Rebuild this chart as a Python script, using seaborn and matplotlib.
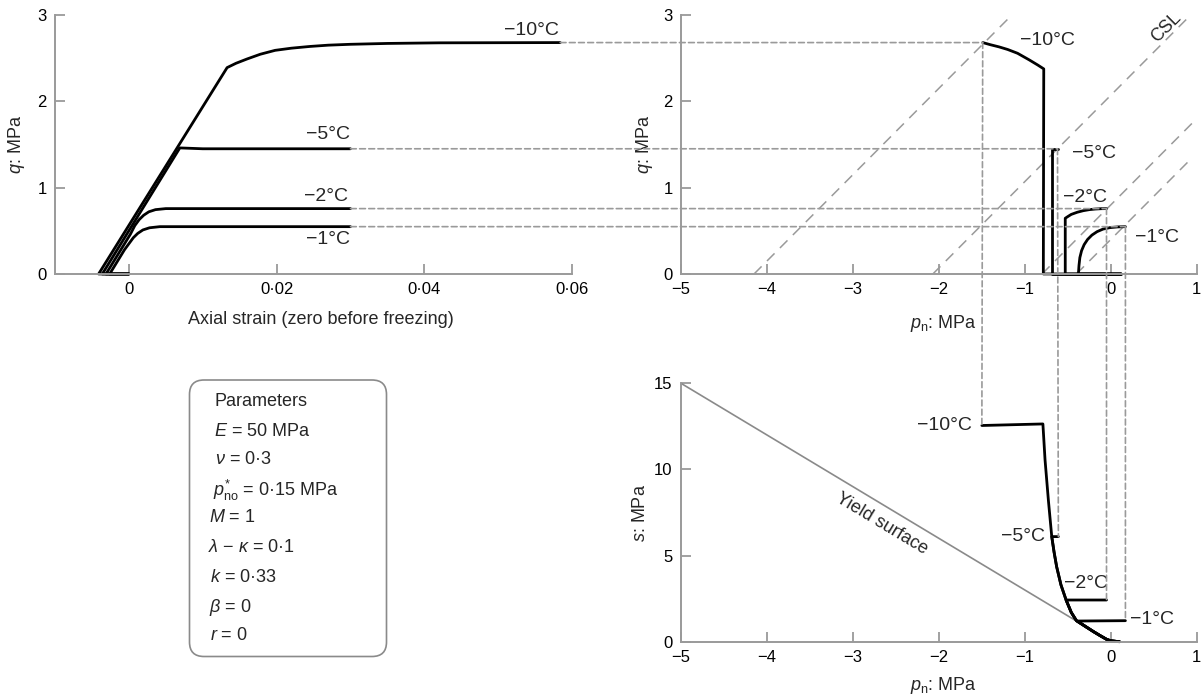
import matplotlib
matplotlib.use("Agg")
import matplotlib.pyplot as plt
import seaborn as sns
from matplotlib.patches import ConnectionPatch, FancyBboxPatch

# ---------------- data ----------------
temps = ["−10°C", "−5°C", "−2°C", "−1°C"]

# top-left: axial strain vs q
strain_m10 = [0.0, -0.0041, 0.0133, 0.0145, 0.0160, 0.0178, 0.0198, 0.0220, 0.0245,
              0.0270, 0.0300, 0.0350, 0.0420, 0.0584]
q_m10 = [0.0, 0.0, 2.39, 2.44, 2.49, 2.545, 2.59, 2.615, 2.635, 2.65, 2.66, 2.67, 2.677, 2.68]
strain_m5 = [0.0, -0.0036, 0.0069, 0.0100, 0.0300]
q_m5 = [0.0, 0.0, 1.46, 1.45, 1.45]
strain_m2 = [0.0, -0.0031, 0.0002, 0.0008, 0.0014, 0.0020, 0.0027, 0.0036, 0.0050, 0.0300]
q_m2 = [0.0, 0.0, 0.46, 0.56, 0.63, 0.68, 0.72, 0.745, 0.757, 0.757]
strain_m1 = [0.0, -0.0026, -0.0006, 0.0000, 0.0006, 0.0012, 0.0019, 0.0028, 0.0042, 0.0300]
q_m1 = [0.0, 0.0, 0.28, 0.35, 0.42, 0.47, 0.51, 0.535, 0.548, 0.548]

# top-right: p_n vs q
pq_p_m10 = [0.12, -0.785, -0.78, -0.85, -0.95, -1.085, -1.20, -1.30, -1.40, -1.49]
pq_q_m10 = [0.0, 0.0, 2.375, 2.42, 2.48, 2.556, 2.60, 2.63, 2.655, 2.68]
pq_p_m5 = [0.12, -0.687, -0.687, -0.62]
pq_q_m5 = [0.0, 0.0, 1.45, 1.45]
pq_p_m2 = [0.12, -0.53, -0.53, -0.50, -0.46, -0.39, -0.32, -0.25, -0.18, -0.11, -0.05]
pq_q_m2 = [0.0, 0.0, 0.645, 0.665, 0.69, 0.715, 0.733, 0.745, 0.752, 0.756, 0.757]
pq_p_m1 = [0.12, -0.377, -0.37, -0.36, -0.34, -0.31, -0.27, -0.22, -0.16, -0.09, -0.01, 0.08, 0.17]
pq_q_m1 = [0.0, 0.0, 0.10, 0.19, 0.27, 0.34, 0.40, 0.45, 0.49, 0.52, 0.537, 0.545, 0.548]

# critical state lines (endpoints)
csl_p0 = [-4.15, -2.07, -0.80, -0.40]
csl_q0 = [0.0, 0.0, 0.0, 0.0]
csl_p1 = [-1.18, 0.93, 0.95, 0.95]
csl_q1 = [2.97, 3.00, 1.75, 1.35]

# bottom-right: p_n vs s
ps_p_m10 = [0.10, 0.0, -0.05, -0.12, -0.20, -0.30, -0.40, -0.46, -0.52, -0.58, -0.63, -0.66,
            -0.687, -0.726, -0.765, -0.79, -1.50]
ps_s_m10 = [0.0, 0.05, 0.14, 0.34, 0.58, 0.90, 1.22, 1.70, 2.42, 3.30, 4.35, 5.20,
            6.10, 8.20, 10.55, 12.64, 12.55]
ps_p_m5 = [0.10, 0.0, -0.05, -0.12, -0.20, -0.30, -0.40, -0.46, -0.52, -0.58, -0.63, -0.66,
           -0.687, -0.61]
ps_s_m5 = [0.0, 0.05, 0.14, 0.34, 0.58, 0.90, 1.22, 1.70, 2.42, 3.30, 4.35, 5.20, 6.10, 6.10]
ps_p_m2 = [0.10, 0.0, -0.05, -0.12, -0.20, -0.30, -0.40, -0.46, -0.52, -0.05]
ps_s_m2 = [0.0, 0.05, 0.14, 0.34, 0.58, 0.90, 1.22, 1.70, 2.42, 2.42]
ps_p_m1 = [0.10, 0.0, -0.05, -0.12, -0.20, -0.30, -0.39, 0.17]
ps_s_m1 = [0.0, 0.05, 0.14, 0.34, 0.58, 0.90, 1.20, 1.22]

yield_p = [-5.0, -0.42]
yield_s = [15.0, 1.26]

tl_xticks = [0.0, 0.02, 0.04, 0.06]
tl_xticklabels = ["0", "0·02", "0·04", "0·06"]
q_ticks = [0, 1, 2, 3]
q_ticklabels = ["0", "1", "2", "3"]
p_ticks = [-5, -4, -3, -2, -1, 0, 1]
p_ticklabels = ["−5", "−4", "−3", "−2", "−1", "0", "1"]
s_ticks = [0, 5, 10, 15]
s_ticklabels = ["0", "5", "10", "15"]

params = ["Parameters", r"$E$ = 50 MPa", r"$\nu$ = 0·3", r"$p^{*}_{\rm no}$ = 0·15 MPa",
          r"$M$ = 1", r"$\lambda$ − $\kappa$ = 0·1", r"$k$ = 0·33", r"$\beta$ = 0", r"$r$ = 0"]

# label positions (layout)
tl_lab_xy = [(0.0582, 2.817), (0.0299, 1.61), (0.0297, 0.892), (0.0299, 0.394)]
tr_lab_xy = [(-1.06, 2.70), (-0.45, 1.40), (-0.56, 0.88), (0.28, 0.417)]
br_lab_xy = [(-1.62, 12.57), (-0.76, 6.09), (-0.55, 3.39), (0.22, 1.30)]
br_lab_ha = ["right", "right", "left", "left"]

# ---------------- style ----------------
sns.set_style("ticks")
plt.rcParams["font.family"] = ["Liberation Sans", "DejaVu Sans"]
plt.rcParams["mathtext.fontset"] = "custom"
plt.rcParams["mathtext.rm"] = "Liberation Sans"
plt.rcParams["mathtext.it"] = "Liberation Sans:italic"
plt.rcParams["mathtext.bf"] = "Liberation Sans:bold"

SPINE = "#9a9a9a"
DASH = "#9a9a9a"
LW = 2.0
FS = 13
FS_T = 14

fig = plt.figure(figsize=(12.04, 6.95), dpi=100)
ax_tl = fig.add_axes([0.0457, 0.6058, 0.4294, 0.3727])
ax_tr = fig.add_axes([0.5656, 0.6058, 0.4284, 0.3727])
ax_br = fig.add_axes([0.5656, 0.0767, 0.4284, 0.3718])

for ax in (ax_tl, ax_tr, ax_br):
    sns.despine(ax=ax)
    for side in ("left", "bottom"):
        ax.spines[side].set_color(SPINE)
        ax.spines[side].set_linewidth(1.4)
    ax.tick_params(direction="in", length=7, width=1.3, color=SPINE,
                   labelsize=12, labelcolor="black", pad=6)

# ---- top-left ----
tl_curves = [(strain_m10, q_m10), (strain_m5, q_m5), (strain_m2, q_m2), (strain_m1, q_m1)]
for xs, ys in tl_curves:
    sns.lineplot(x=xs, y=ys, sort=False, estimator=None, color="black",
                 linewidth=LW, ax=ax_tl, clip_on=False)
ax_tl.set_xlim(-0.01, 0.06)
ax_tl.set_ylim(0, 3)
ax_tl.set_xticks(tl_xticks, tl_xticklabels)
ax_tl.set_yticks(q_ticks, q_ticklabels)
ax_tl.set_xlabel("Axial strain (zero before freezing)", fontsize=FS, va="top")
ax_tl.set_ylabel(r"$q$: MPa", fontsize=FS)
ax_tl.xaxis.set_label_coords(0.515, -0.143)
ax_tl.yaxis.set_label_coords(-0.055, 0.5)
for t, (x, y) in zip(temps, tl_lab_xy):
    ax_tl.text(x, y, t, fontsize=FS_T, ha="right", va="center")

# ---- top-right ----
for x0, y0, x1, y1 in zip(csl_p0, csl_q0, csl_p1, csl_q1):
    sns.lineplot(x=[x0, x1], y=[y0, y1], sort=False, estimator=None, color=DASH,
                 linewidth=1.1, linestyle=(0, (7, 5)), ax=ax_tr)
tr_curves = [(pq_p_m10, pq_q_m10), (pq_p_m5, pq_q_m5), (pq_p_m2, pq_q_m2), (pq_p_m1, pq_q_m1)]
for xs, ys in tr_curves:
    sns.lineplot(x=xs, y=ys, sort=False, estimator=None, color="black",
                 linewidth=LW, ax=ax_tr, clip_on=False)
ax_tr.set_xlim(-5, 1)
ax_tr.set_ylim(0, 3)
ax_tr.set_xticks(p_ticks, p_ticklabels)
ax_tr.set_yticks(q_ticks, q_ticklabels)
ax_tr.set_xlabel(r"$p_{\rm n}$: MPa", fontsize=FS, va="top")
ax_tr.set_ylabel(r"$q$: MPa", fontsize=FS)
ax_tr.xaxis.set_label_coords(0.508, -0.15)
ax_tr.yaxis.set_label_coords(-0.05, 0.5)
for t, (x, y) in zip(temps, tr_lab_xy):
    ax_tr.text(x, y, t, fontsize=FS_T, ha="left", va="center")
ax_tr.text(0.64, 2.85, "CSL", fontsize=FS, rotation=45, ha="center", va="center")

# ---- bottom-right ----
sns.lineplot(x=yield_p, y=yield_s, sort=False, estimator=None, color="#8a8a8a",
             linewidth=1.2, ax=ax_br)
br_curves = [(ps_p_m10, ps_s_m10), (ps_p_m5, ps_s_m5), (ps_p_m2, ps_s_m2), (ps_p_m1, ps_s_m1)]
for xs, ys in br_curves:
    sns.lineplot(x=xs, y=ys, sort=False, estimator=None, color="black",
                 linewidth=LW, ax=ax_br, clip_on=False)
ax_br.set_xlim(-5, 1)
ax_br.set_ylim(0, 15)
ax_br.set_xticks(p_ticks, p_ticklabels)
ax_br.set_yticks(s_ticks, s_ticklabels)
ax_br.set_xlabel(r"$p_{\rm n}$: MPa", fontsize=FS, va="top")
ax_br.set_ylabel(r"$s$: MPa", fontsize=FS)
ax_br.xaxis.set_label_coords(0.508, -0.13)
ax_br.yaxis.set_label_coords(-0.062, 0.5)
for t, (x, y), ha in zip(temps, br_lab_xy, br_lab_ha):
    ax_br.text(x, y, t, fontsize=FS_T, ha=ha, va="center")
ax_br.text(-2.66, 6.84, "Yield surface", fontsize=FS, rotation=-31,
           rotation_mode="anchor", ha="center", va="center")

# ---- connectors ----
for (sx, sq), (px, pq), (bx, bs) in zip(tl_curves, tr_curves, br_curves):
    hcon = ConnectionPatch(xyA=(sx[-1], sq[-1]), coordsA="data", axesA=ax_tl,
                           xyB=(px[-1], pq[-1]), coordsB="data", axesB=ax_tr,
                           color=DASH, linewidth=1.2, linestyle=(0, (3.5, 2)))
    fig.add_artist(hcon)
    vcon = ConnectionPatch(xyA=(px[-1], pq[-1]), coordsA="data", axesA=ax_tr,
                           xyB=(bx[-1], bs[-1]), coordsB="data", axesB=ax_br,
                           color=DASH, linewidth=1.2, linestyle=(0, (3.5, 2)))
    fig.add_artist(vcon)

# ---- parameter box ----
W, H = 1204, 695
box = FancyBboxPatch((189.5 / W, 1 - 656.5 / H), 197 / W, 276.5 / H,
                     boxstyle="round,pad=0,rounding_size=0.012",
                     transform=fig.transFigure, facecolor="white",
                     edgecolor="#8a8a8a", linewidth=1.2, mutation_aspect=W / H)
fig.add_artist(box)
param_y = [401.7, 431.7, 460, 490, 518, 548, 577, 607, 635]
param_x = [215, 214, 215, 213, 209, 208, 210, 209, 210]
for t, x, y in zip(params, param_x, param_y):
    fig.text(x / W, 1 - y / H, t, fontsize=FS, ha="left", va="center")

fig.savefig("out.png", dpi=100)
